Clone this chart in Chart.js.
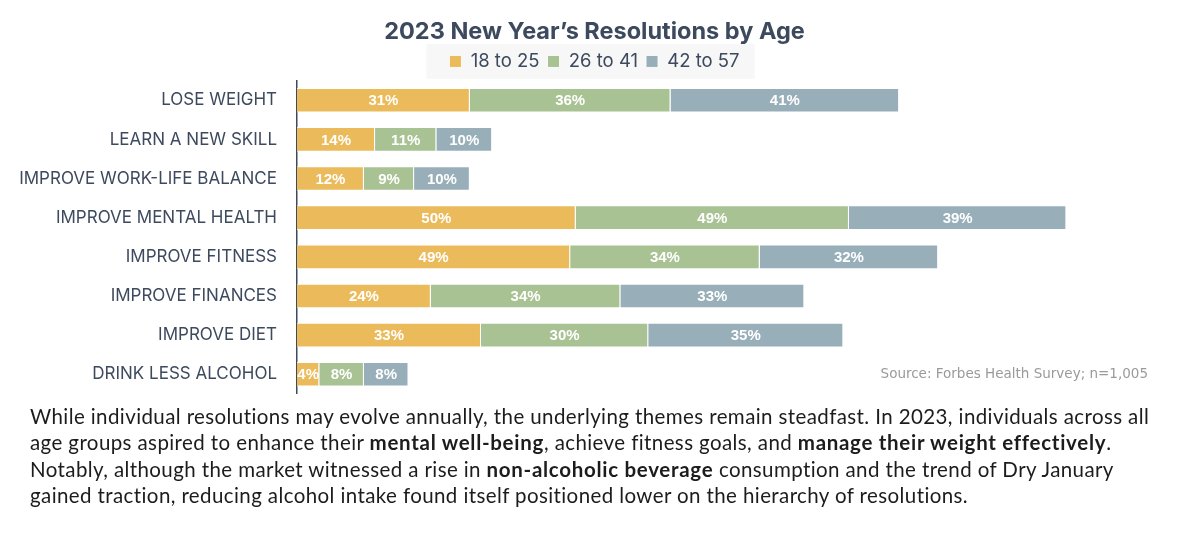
<!DOCTYPE html>
<html>
<head>
<meta charset="utf-8">
<script src="https://cdn.jsdelivr.net/npm/chart.js@4.4.0/dist/chart.umd.min.js"></script>
<style>
  html, body { margin: 0; padding: 0; background: #fff; }
  #wrap { position: relative; width: 1199px; height: 539px; overflow: hidden; }
  #chart { position: absolute; left: 0; top: 0; }
  #source {
    position: absolute; right: 51px; top: 365px;
    font-family: "DejaVu Sans", sans-serif; font-size: 13.5px; color: #9a9a9a;
  }
  #para {
    position: absolute; left: 30px; top: 403px; white-space: nowrap;
    font-family: Lato, sans-serif; font-size: 20.5px; letter-spacing: 0.4px;
    line-height: 26.3px; color: #1c1c1c;
  }
  #para b { font-weight: 700; letter-spacing: 0.7px; }
</style>
</head>
<body>
<div id="wrap">
  <canvas id="chart" width="1199" height="424"></canvas>
  <div id="source">Source: Forbes Health Survey; n=1,005</div>
  <div id="para">
    While individual resolutions may evolve annually, the underlying themes remain steadfast. In 2023, individuals across all<br>
    age groups aspired to enhance their <b>mental well-being</b>, achieve fitness goals, and <b>manage their weight effectively</b>.<br>
    Notably, although the market witnessed a rise in <b>non-alcoholic beverage</b> consumption and the trend of Dry January<br>
    gained traction, reducing alcohol intake found itself positioned lower on the hierarchy of resolutions.
  </div>
</div>
<script>
// --- Data ---
const resolutions = [
  'LOSE WEIGHT', 'LEARN A NEW SKILL', 'IMPROVE WORK-LIFE BALANCE', 'IMPROVE MENTAL HEALTH',
  'IMPROVE FITNESS', 'IMPROVE FINANCES', 'IMPROVE DIET', 'DRINK LESS ALCOHOL'
];
const age18to25 = [31, 14, 12, 50, 49, 24, 33, 4];
const age26to41 = [36, 11, 9, 49, 34, 34, 30, 8];
const age42to57 = [41, 10, 10, 39, 32, 33, 35, 8];

const textDark = '#3d4a5e';

// --- Legend background box (only round the items) ---
const legendBg = {
  id: 'legendBg',
  beforeDraw(chart) {
    const lg = chart.legend;
    if (!lg || !lg.legendHitBoxes.length) return;
    const boxes = lg.legendHitBoxes;
    const left = Math.min(...boxes.map(b => b.left)) - 23;
    const right = Math.max(...boxes.map(b => b.left + b.width)) + 15;
    const ctx = chart.ctx;
    ctx.save();
    ctx.fillStyle = '#f7f7f7';
    ctx.fillRect(left, lg.top, right - left, lg.height - 2);
    ctx.restore();
  }
};

// --- Value labels inside segments ---
const barLabels = {
  id: 'barLabels',
  afterDatasetsDraw(chart) {
    const ctx = chart.ctx;
    ctx.save();
    ctx.font = 'bold 15px "Liberation Sans", Arial, sans-serif';
    ctx.fillStyle = '#ffffff';
    ctx.textAlign = 'center';
    ctx.textBaseline = 'middle';
    chart.data.datasets.forEach((ds, i) => {
      chart.getDatasetMeta(i).data.forEach((bar, j) => {
        const cx = (bar.x + bar.base) / 2;
        ctx.fillText(ds.data[j] + '%', cx, bar.y + 1);
      });
    });
    ctx.restore();
  }
};

new Chart(document.getElementById('chart'), {
  type: 'bar',
  data: {
    labels: resolutions,
    datasets: [
      { label: '18 to 25', data: age18to25, backgroundColor: '#ebbb5b' },
      { label: '26 to 41', data: age26to41, backgroundColor: '#a9c293' },
      { label: '42 to 57', data: age42to57, backgroundColor: '#98afba' }
    ]
  },
  options: {
    indexAxis: 'y',
    responsive: false,
    animation: false,
    datasets: {
      bar: {
        borderColor: 'rgba(255,255,255,0.85)',
        borderWidth: 1,
        barPercentage: 0.63,
        categoryPercentage: 1
      }
    },
    layout: { padding: { left: 0, right: 10, top: 0, bottom: 6 } },
    plugins: {
      title: {
        display: true,
        text: '2023 New Year\u2019s Resolutions by Age',
        color: textDark,
        font: { family: 'Inter, sans-serif', size: 23.5, weight: 'bold' },
        padding: { top: 18, bottom: -2 }
      },
      legend: {
        position: 'top',
        labels: {
          color: textDark,
          font: { family: 'Inter, sans-serif', size: 18.5 },
          boxWidth: 12,
          boxHeight: 12,
          padding: 8
        }
      },
      tooltip: { enabled: false }
    },
    scales: {
      x: {
        stacked: true,
        min: 0,
        max: 160,
        display: false
      },
      y: {
        stacked: true,
        afterFit(scale) { scale.width = 297; },
        grid: { display: false, drawTicks: false },
        border: { display: true, color: textDark, width: 1.5 },
        ticks: {
          color: textDark,
          padding: 20,
          font: { family: 'Inter, sans-serif', size: 17 }
        }
      }
    }
  },
  plugins: [legendBg, barLabels]
});
</script>
</body>
</html>
